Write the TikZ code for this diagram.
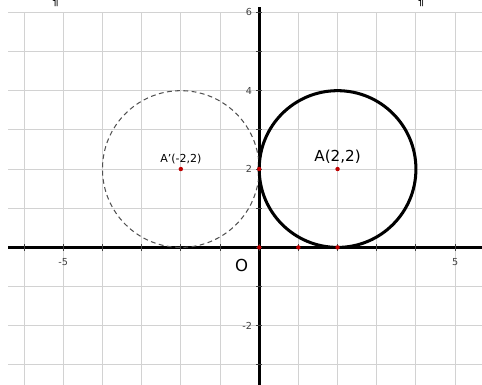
\documentclass[tikz,border=0pt]{standalone}
\usepackage{fontspec}
\setmainfont{DejaVu Sans}
\usetikzlibrary{positioning}
\definecolor{gridgray}{HTML}{D2D2D2}
\definecolor{dashgray}{HTML}{505050}
\definecolor{pointred}{HTML}{C00000}
\definecolor{labelgray}{HTML}{404040}
\tikzset{
  gridline/.style={draw=gridgray,line width=0.75pt},
  axis/.style={draw=black,line width=2.2pt},
  tickmark/.style={draw=black!75,line width=0.7pt},
  ticklabel/.style={font=\fontsize{7}{8}\selectfont,text=labelgray,inner sep=1pt},
  solidcirc/.style={draw=black,line width=2.2pt},
  dashcirc/.style={draw=dashgray,dashed,dash pattern=on 3.5pt off 2.5pt,line width=0.75pt},
  redpoint/.style={circle,fill=pointred,inner sep=0pt,minimum size=3.2pt},
  pointlabel/.style={font=\fontsize{8}{9}\selectfont,inner sep=1pt}
}
\begin{document}
\begin{tikzpicture}
\useasboundingbox (-6.615,-3.508) rectangle (5.686,6.314);
% grid and axes
\draw[gridline] (-6.41,-3.51) grid (5.69,6);
\coordinate (xl) at (-6.41,0);
\coordinate (xr) at (5.69,0);
\coordinate (yb) at (0,-3.51);
\coordinate (yt) at (0,6.13);
\draw[axis] (xl) -- (xr);
\draw[axis] (yb) -- (yt);
\foreach \i in {-6,...,5}
  \draw[tickmark] (\i,-0.08) -- (\i,0.08);
\foreach \j in {-3,...,6}
  \draw[tickmark] (-0.08,\j) -- (0.08,\j);
% axis labels
\node[ticklabel] at (-5,-0.38) {-5};
\node[ticklabel] at (5,-0.38) {5};
\foreach \j in {6,4,2,-2}
  \node[ticklabel,anchor=east] at (-0.14,\j) {\j};
\node[font=\fontsize{12}{13}\selectfont] (o) at (-0.45,-0.47) {O};
% circles
\draw[dashcirc] (-2,2) circle (2);
\draw[solidcirc] (2,2) circle (2);
% points
\node[redpoint] (Ap) at (-2,2) {};
\node[redpoint] (A) at (2,2) {};
\node[redpoint] (T) at (0,2) {};
\node[redpoint] (O) at (0,0) {};
\node[redpoint] (U) at (1,0) {};
\node[redpoint] (B) at (2,0) {};
\node[pointlabel,above=1pt of Ap] (lAp) {A'(-2,2)};
\node[font=\fontsize{11}{12}\selectfont,inner sep=1pt,above=1pt of A] (lA) {A(2,2)};
% paragraph marks cut at the top
\node[font=\fontsize{9}{10}\selectfont,anchor=base] (p1) at (-5.21,6.18) {¶};
\node[font=\fontsize{9}{10}\selectfont,anchor=base] (p2) at (4.12,6.18) {¶};
\end{tikzpicture}
\end{document}
